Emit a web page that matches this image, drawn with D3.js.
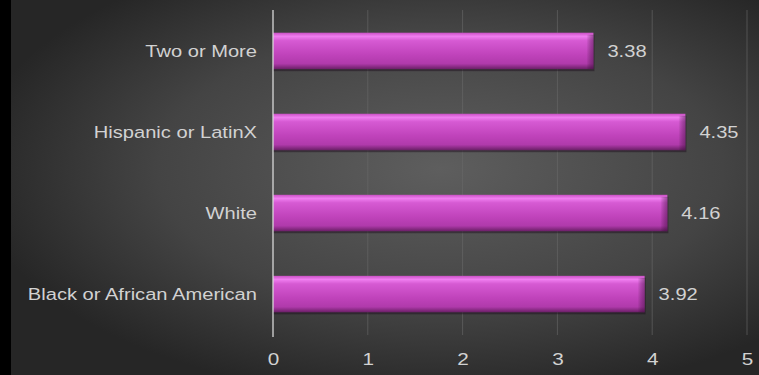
<!DOCTYPE html>
<html><head><meta charset="utf-8">
<script src="https://cdn.jsdelivr.net/npm/d3@7"></script>
<style>html,body{margin:0;padding:0;background:#000;overflow:hidden}</style>
</head><body>
<svg id="chart" width="759" height="375"></svg>
<script>
const categories = ["Two or More", "Hispanic or LatinX", "White", "Black or African American"];
const values = [3.38, 4.35, 4.16, 3.92];
const tickValues = [0, 1, 2, 3, 4, 5];

const W = 759, H = 375;
const svg = d3.select("#chart");
const defs = svg.append("defs");

const bg = defs.append("radialGradient").attr("id", "bg")
  .attr("cx", "0.58").attr("cy", "0.45").attr("r", "0.62");
bg.append("stop").attr("offset", "0").attr("stop-color", "#5e5e5e");
bg.append("stop").attr("offset", "0.6").attr("stop-color", "#444");
bg.append("stop").attr("offset", "1").attr("stop-color", "#262626");

const barG = defs.append("linearGradient").attr("id", "barG")
  .attr("x1", 0).attr("y1", 0).attr("x2", 0).attr("y2", 1);
barG.append("stop").attr("offset", "0").attr("stop-color", "#c94fc4");
barG.append("stop").attr("offset", "0.1").attr("stop-color", "#f07ef0");
barG.append("stop").attr("offset", "0.22").attr("stop-color", "#d65ad3");
barG.append("stop").attr("offset", "0.6").attr("stop-color", "#c043bb");
barG.append("stop").attr("offset", "0.85").attr("stop-color", "#b03aab");
barG.append("stop").attr("offset", "1").attr("stop-color", "#6a1f66");

const endG = defs.append("linearGradient").attr("id", "endG")
  .attr("x1", 0).attr("y1", 0).attr("x2", 1).attr("y2", 0);
endG.append("stop").attr("offset", "0").attr("stop-color", "#000").attr("stop-opacity", 0);
endG.append("stop").attr("offset", "1").attr("stop-color", "#3a0a38").attr("stop-opacity", 0.45);

svg.append("rect").attr("width", W).attr("height", H).attr("fill", "url(#bg)");
svg.append("rect").attr("x", 0).attr("y", 0).attr("width", 11).attr("height", H).attr("fill", "#000");

const margin = {left: 273, top: 10, bottom: 40};
const x = d3.scaleLinear().domain([0, 5]).range([margin.left, 747]);
const y = d3.scaleBand().domain(categories).range([margin.top, H - margin.bottom]).paddingInner(0.55).paddingOuter(0.28);

// gridlines
svg.append("g").selectAll("line").data(tickValues.slice(1)).join("line")
  .attr("x1", d => x(d)).attr("x2", d => x(d))
  .attr("y1", margin.top).attr("y2", H - margin.bottom)
  .attr("stroke", "#6a6a6a").attr("stroke-width", 1).attr("opacity", 0.6);

// bars
const bars = svg.append("g");
bars.selectAll("rect.shadow").data(values).join("rect").attr("class", "shadow")
  .attr("x", x(0)).attr("y", (d, i) => y(categories[i]) + 2)
  .attr("width", d => x(d) - x(0) + 1).attr("height", y.bandwidth())
  .attr("fill", "#1a0a1a").attr("opacity", 0.45);
bars.selectAll("rect.bar").data(values).join("rect").attr("class", "bar")
  .attr("x", x(0)).attr("y", (d, i) => y(categories[i]))
  .attr("width", d => x(d) - x(0)).attr("height", y.bandwidth())
  .attr("fill", "url(#barG)");
bars.selectAll("rect.end").data(values).join("rect").attr("class", "end")
  .attr("x", d => x(d) - 7).attr("y", (d, i) => y(categories[i]) + 2)
  .attr("width", 7).attr("height", y.bandwidth() - 2)
  .attr("fill", "url(#endG)");

// axis line at 0
svg.append("line").attr("x1", x(0)).attr("x2", x(0))
  .attr("y1", margin.top).attr("y2", H - margin.bottom + 2)
  .attr("stroke", "#d8d8d8").attr("stroke-width", 1.3);

const font = "'Liberation Sans', Arial, Helvetica, sans-serif";
const sx = 1.22, fs = 16.5, txt = "#d2d2d2";

// category labels
svg.append("g").selectAll("text").data(categories).join("text")
  .attr("transform", d => `translate(${x(0) - 16},${y(d) + y.bandwidth() / 2}) scale(${sx},1)`)
  .attr("dy", "0.35em").attr("text-anchor", "end")
  .attr("font-family", font).attr("font-size", fs).attr("fill", txt)
  .text(d => d);

// value labels
svg.append("g").selectAll("text").data(values).join("text")
  .attr("transform", (d, i) => `translate(${x(d) + 14},${y(categories[i]) + y.bandwidth() / 2}) scale(${sx},1)`)
  .attr("dy", "0.35em").attr("text-anchor", "start")
  .attr("font-family", font).attr("font-size", fs).attr("fill", txt)
  .text(d => d.toFixed(2));

// x axis tick labels
const ax = svg.append("g").attr("transform", `translate(0,${H - 16})`)
  .call(d3.axisBottom(x).tickValues(tickValues).tickSize(0).tickFormat(d3.format("d")));
ax.select(".domain").remove();
ax.selectAll("text")
  .attr("transform", `scale(${sx},1)`)
  .attr("x", function(d) { return 0; })
  .attr("font-family", font).attr("font-size", 17).attr("fill", txt).attr("dy", "0.35em").attr("y", 0);
</script>
</body></html>
